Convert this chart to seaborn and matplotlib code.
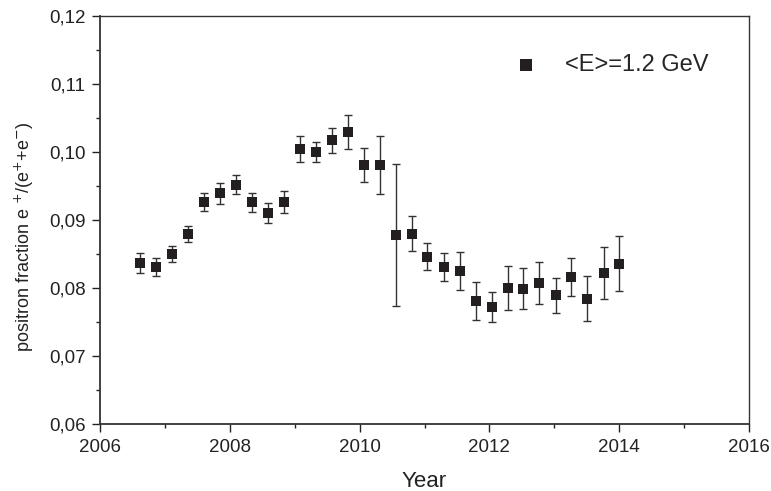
import matplotlib
matplotlib.use("Agg")
import matplotlib.pyplot as plt
from matplotlib.ticker import MultipleLocator, FuncFormatter
import seaborn as sns
import pandas as pd

# values
years = [2006.62, 2006.86, 2007.11, 2007.35, 2007.60, 2007.85, 2008.09, 2008.34,
         2008.59, 2008.83, 2009.08, 2009.33, 2009.57, 2009.82, 2010.06, 2010.31,
         2010.56, 2010.80, 2011.04, 2011.30, 2011.54, 2011.79, 2012.04, 2012.28,
         2012.52, 2012.77, 2013.02, 2013.26, 2013.51, 2013.76, 2014.00]
fraction = [0.0837, 0.0831, 0.0850, 0.0879, 0.0926, 0.0939, 0.0952, 0.0926,
            0.0910, 0.0926, 0.1005, 0.1000, 0.1017, 0.1029, 0.0981, 0.0981,
            0.0878, 0.0880, 0.0846, 0.0831, 0.0825, 0.0781, 0.0772, 0.0800,
            0.0799, 0.0807, 0.0789, 0.0816, 0.0784, 0.0822, 0.0836]
err = [0.0015, 0.00135, 0.0012, 0.0012, 0.0013, 0.0015, 0.0014, 0.0014,
       0.0015, 0.0016, 0.0019, 0.0015, 0.0018, 0.0025, 0.0025, 0.0043,
       0.0104, 0.0026, 0.0020, 0.0021, 0.0028, 0.0028, 0.0022, 0.0032,
       0.0030, 0.0031, 0.0026, 0.0028, 0.0033, 0.0038, 0.0040]
label = "<E>=1.2 GeV"

df = pd.DataFrame({"year": years, "fraction": fraction, "err": err})

sns.set_style("white")
plt.rcParams["font.family"] = ["Liberation Sans", "DejaVu Sans"]

fig = plt.figure(figsize=(7.71, 4.91), dpi=100)
ax = fig.add_axes([0.1297, 0.1365, 0.8418, 0.8309])

dark = "#231f20"
ax.errorbar(df["year"], df["fraction"], yerr=df["err"], fmt="none",
            ecolor="#333333", elinewidth=1.0, capsize=3, capthick=1.0, zorder=2)
sns.scatterplot(data=df, x="year", y="fraction", marker="s", s=48,
                color=dark, edgecolor=dark, linewidth=0, ax=ax, zorder=3,
                label=label)

ax.set_xlim(2006, 2016)
ax.set_ylim(0.06, 0.12)
ax.xaxis.set_major_locator(MultipleLocator(2))
ax.xaxis.set_minor_locator(MultipleLocator(1))
ax.yaxis.set_major_locator(MultipleLocator(0.01))
ax.yaxis.set_minor_locator(MultipleLocator(0.005))
ax.yaxis.set_major_formatter(FuncFormatter(lambda v, p: f"{v:.2f}".replace(".", ",")))
ax.tick_params(which="both", direction="out", bottom=True, left=True,
               top=False, right=False, colors="#222222", labelsize=13.5)
ax.tick_params(which="major", length=5.5, width=1, pad=5)
ax.tick_params(which="minor", length=3, width=1)

for side, sp in ax.spines.items():
    sp.set_color("#333333")
    sp.set_linewidth(1.3 if side in ("left", "bottom") else 1.0)

ax.set_xlabel("Year", fontsize=16, color="#222222", labelpad=11)
ax.set_ylabel(r"positron fraction e $^{+}$/(e$^{+}$+e$^{-}$)", fontsize=13,
              color="#222222")
ax.yaxis.set_label_coords(-0.098, 0.458)

leg = ax.legend(loc="center right", bbox_to_anchor=(0.937, 0.88), frameon=False,
                fontsize=17, handletextpad=0.65, markerscale=1.15, borderpad=0,
                borderaxespad=0)

fig.savefig("out.png", dpi=100)
